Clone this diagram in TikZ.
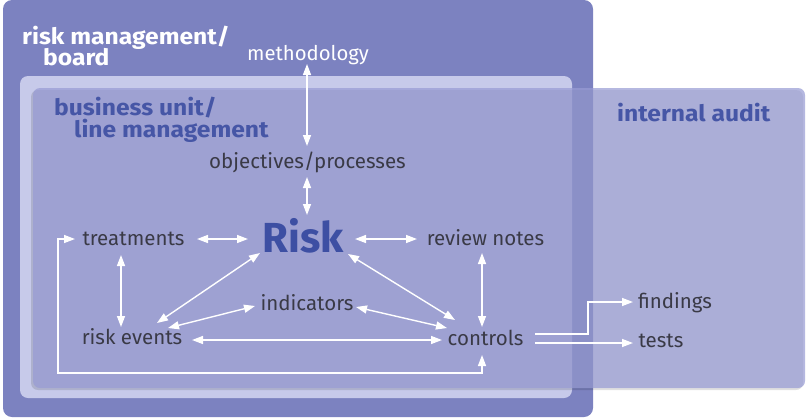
\documentclass[tikz,border=0pt]{standalone}
\usepackage{fontspec}
\setmainfont{Fira Sans}
\newfontfamily\titlefont[FakeStretch=1.09]{Fira Sans}
\usetikzlibrary{arrows.meta,calc}
\definecolor{outerc}{RGB}{124,130,192}
\definecolor{bandc}{RGB}{199,202,234}
\definecolor{auditc}{RGB}{152,156,212}
\definecolor{bluet}{RGB}{70,86,166}
\definecolor{riskt}{RGB}{61,79,163}
\definecolor{grayt}{RGB}{58,58,70}
\tikzset{
  lbl/.style={inner sep=0pt, anchor=base, text=grayt, font=\fontsize{20.5}{23}\selectfont},
  wlbl/.style={inner sep=0pt, anchor=base west, text=white, font=\titlefont\fontsize{22.6}{25}\selectfont\bfseries},
  blbl/.style={inner sep=0pt, anchor=base west, text=bluet, font=\titlefont\fontsize{22.6}{25}\selectfont\bfseries},
  arr/.style={white, line width=1.4pt, {Triangle[length=11pt,width=8pt]}-{Triangle[length=11pt,width=8pt]}},
  oarr/.style={white, line width=1.4pt, -{Triangle[length=11pt,width=8pt]}}
}
\begin{document}
\begin{tikzpicture}[x=1pt,y=-1pt]
\useasboundingbox (0,0) rectangle (806,418);
% boxes
\fill[outerc, rounded corners=9pt] (3,0) rectangle (593,417);
\fill[bandc, rounded corners=8pt] (20,76) rectangle (572,398);
\fill[black, opacity=0.12, rounded corners=7pt] (31,90) rectangle (803,390);
\fill[auditc, opacity=0.72, rounded corners=7pt] (33,88) rectangle (805,388);
% titles
\node[wlbl] (rm1) at (22,44) {risk management/};
\node[wlbl] (rm2) at (43,65.5) {board};
\node[blbl] (bu1) at (54,115) {business unit/};
\node[blbl] (bu2) at (74,137) {line management};
\node[blbl] (ia) at (617,121) {internal audit};
% labels
\node[lbl, text=white, font=\fontsize{20.3}{23}\selectfont] (meth) at (308,60) {methodology};
\node[lbl] (obj) at (307.5,168) {objectives/processes};
\node[inner sep=0pt, anchor=base, text=riskt, font=\fontsize{42}{44}\selectfont\bfseries] (risk) at (303,252) {Risk};
\node[lbl] (treat) at (133.5,245) {treatments};
\node[lbl] (rn) at (485.5,245) {review notes};
\node[lbl] (ind) at (307,310) {indicators};
\node[lbl] (rev) at (132,344) {risk events};
\node[lbl] (ctrl) at (485.5,345) {controls};
\node[lbl] (find) at (675,308) {findings};
\node[lbl] (tests) at (661,347) {tests};
% connectors
\draw[arr] ([shift={(-1,4)}]meth.base) -- ([shift={(-0.5,-22)}]obj.base);
\draw[arr] ([shift={(-0.5,9)}]obj.base) -- ([shift={(4,-37)}]risk.base);
\draw[arr] ([shift={(63.5,-6)}]treat.base) -- ([shift={(-55,-13)}]risk.base);
\draw[arr] ([shift={(52,-13)}]risk.base) -- ([shift={(-68.5,-6)}]rn.base);
\draw[arr] ([shift={(-12.5,10)}]treat.base) -- ([shift={(-11,-17)}]rev.base);
\draw[arr] ([shift={(-43,1)}]risk.base) -- ([shift={(25,-21)}]rev.base);
\draw[arr] ([shift={(-52,-4)}]ind.base) -- ([shift={(36,-16)}]rev.base);
\draw[arr] ([shift={(60,-4)}]rev.base) -- ([shift={(-43.5,-5)}]ctrl.base);
\draw[arr] ([shift={(45,2)}]risk.base) -- ([shift={(-30.5,-25)}]ctrl.base);
\draw[arr] ([shift={(49,-3)}]ind.base) -- ([shift={(-38.5,-17)}]ctrl.base);
\draw[arr] ([shift={(-3.5,8)}]rn.base) -- ([shift={(-3.5,-18)}]ctrl.base);
\draw[arr] ([shift={(-3.5,10)}]ctrl.base) -- ++(0,18) -- ++(-424,0) -- ++(0,-134) -- ([shift={(-58.5,-6)}]treat.base);
\draw[oarr] ([shift={(49.5,-11)}]ctrl.base) -- ++(53,0) |- ([shift={(-42,-6)}]find.base);
\draw[oarr] ([shift={(49.5,-2)}]ctrl.base) -- ([shift={(-28,-4)}]tests.base);
\end{tikzpicture}
\end{document}
